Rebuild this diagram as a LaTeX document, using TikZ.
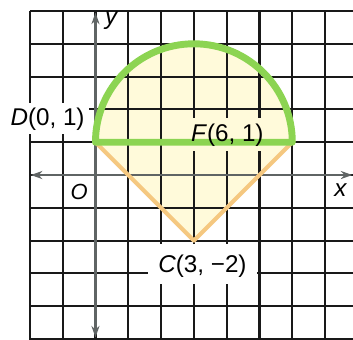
\documentclass[tikz,border=0pt]{standalone}
\usepackage{fontspec}
\setmainfont{Liberation Sans}
\usetikzlibrary{arrows.meta}
\definecolor{fillY}{RGB}{255,250,218}
\definecolor{grn}{RGB}{140,212,82}
\definecolor{org}{RGB}{245,200,128}
\definecolor{axisC}{RGB}{95,100,100}
\begin{document}
\begin{tikzpicture}[x=1cm,y=1cm,
  gridline/.style={line width=1.8pt, black!90},
  axisline/.style={line width=2.4pt, axisC, {Stealth[length=10pt,width=7pt]}-{Stealth[length=10pt,width=7pt]}},
  labtext/.style={font=\fontsize{21}{24}\selectfont, inner sep=0pt},
  tri/.style={org, line width=3.5pt, line join=round, line cap=round},
  semi/.style={grn, line width=6pt, line join=round, line cap=round}]
\useasboundingbox (-2.91,-5.0) rectangle (7.85,5.335);
\coordinate (D) at (0,1);
\coordinate (C) at (3,-2);
\coordinate (F) at (6,1);
\coordinate (xL) at (-1.97,0);
\coordinate (xR) at (7.83,0);
\coordinate (yB) at (0,-4.95);
\coordinate (yT) at (0,4.95);
% filled region
\fill[fillY] (D) -- (C) -- (F) arc[start angle=0,end angle=180,radius=3] -- cycle;
% grid
\foreach \i in {-2,...,7} \draw[gridline] (\i,5) -- (\i,-5.1);
\foreach \j in {-5,...,5} \draw[gridline] (-2,\j) -- (7.9,\j);
% axes
\draw[axisline] (xL) -- (xR);
\draw[axisline] (yB) -- (yT);
% label backgrounds
\fill[white] (-2.7,1.26) rectangle (-0.2,2.2);
\fill[fillY] (2.73,0.72) rectangle (5.3,1.74);
\fill[white] (1.6,-3.32) rectangle (4.92,-2.1);
% triangle
\draw[tri] (D) -- (C) -- (F);
% semicircle and chord
\draw[semi] (D) -- (F) arc[start angle=0,end angle=180,radius=3];
% labels
\node[labtext] (labD) at (-1.46,1.7) {\textit{D}(0, 1)};
\node[labtext] (labF) at (4.02,1.2) {\textit{F}(6, 1)};
\node[labtext] (labC) at (3.26,-2.77) {\textit{C}(3, −2)};
\node[labtext, font=\fontsize{19}{22}\selectfont] (labO) at (-0.5,-0.52) {\textit{O}};
\node[labtext] (labx) at (7.48,-0.46) {\textit{x}};
\node[labtext] (laby) at (0.5,4.72) {\textit{y}};
\end{tikzpicture}
\end{document}
